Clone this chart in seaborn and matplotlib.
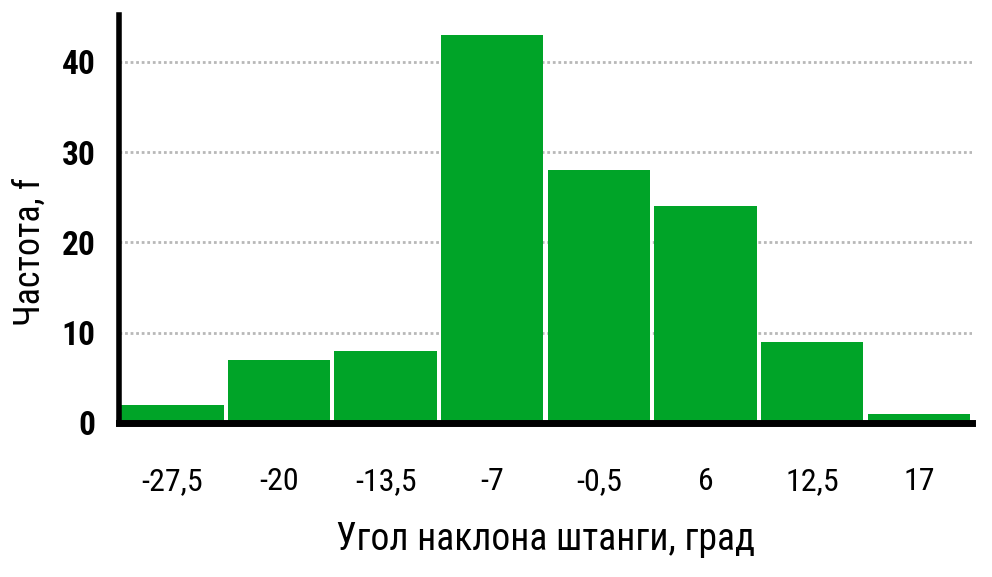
import matplotlib
matplotlib.use("Agg")
import matplotlib.pyplot as plt
import seaborn as sns
import pandas as pd
from matplotlib import font_manager

categories = ["-27,5", "-20", "-13,5", "-7", "-0,5", "6", "12,5", "17"]
frequency = [2, 7, 8, 43, 28, 24, 9, 1]
y_ticks = [0, 10, 20, 30, 40]

sns.set_theme(style="white")
fonts = font_manager.fontManager.ttflist
names = {f.name for f in fonts}
family = "DejaVu Sans"
stretch = "normal"
for cand in ["Liberation Sans Narrow", "Roboto Condensed", "Open Sans Condensed"]:
    if cand in names:
        family = cand
        break
else:
    if any(f.name == "DejaVu Sans" and f.stretch in ("condensed", "semi-condensed") for f in fonts):
        stretch = "condensed"
plt.rcParams["font.family"] = [family, "DejaVu Sans"]
plt.rcParams["font.stretch"] = stretch
plt.rcParams["text.color"] = "black"
plt.rcParams["xtick.color"] = "black"
plt.rcParams["ytick.color"] = "black"
plt.rcParams["axes.labelcolor"] = "black"

df = pd.DataFrame({"cat": categories, "f": frequency})

fig = plt.figure(figsize=(9.92, 5.77), dpi=100)
ax = fig.add_axes([0.12, 0.267, 0.86, 0.707])
sns.barplot(data=df, x="cat", y="f", order=categories, color="#00A428",
            saturation=1, width=0.96, ax=ax, zorder=2, linewidth=0)
ax.set_ylim(0, 45.2)
ax.set_xlim(-0.5, 7.5)
ax.set_yticks(y_ticks)
ax.set_yticklabels([str(v) for v in y_ticks], fontsize=24, fontweight="bold")
ax.tick_params(axis="y", length=0, pad=17)
ax.tick_params(axis="x", length=0, pad=32, labelsize=23)
ax.yaxis.grid(True, linestyle=(0, (1, 1)), color="#b8b8b8", linewidth=2, zorder=0)
ax.xaxis.grid(False)
ax.set_axisbelow(True)
for s in ["top", "right"]:
    ax.spines[s].set_visible(False)
ax.spines["left"].set_linewidth(4)
ax.spines["left"].set_color("black")
ax.spines["bottom"].set_linewidth(5)
ax.spines["bottom"].set_color("black")
ax.spines["left"].set_zorder(3)
ax.spines["bottom"].set_zorder(3)
ax.set_xlabel("Угол наклона штанги, град", fontsize=27, labelpad=18)
ax.set_ylabel("Частота, f", fontsize=26)
ax.yaxis.set_label_coords(-0.083, 0.42)
fig.savefig("out.png", dpi=100)
